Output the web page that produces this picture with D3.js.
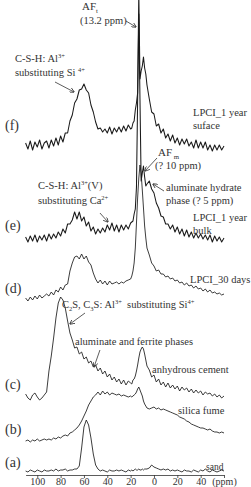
<!DOCTYPE html>
<html><head><meta charset="utf-8">
<script src="https://cdn.jsdelivr.net/npm/d3@7"></script>
<style>html,body{margin:0;padding:0;background:#fff;overflow:hidden}text{font-family:"Liberation Serif","Times New Roman",serif;fill:#333;white-space:pre}</style>
</head><body><svg id="c" width="251" height="487"></svg>
<script>
// chemical shift grid (ppm)
const ppm = [110,108,106,104,102,100,98,96,94,92,
 90,88,86,84,82,80,78,76,74,72,
 70,68,66,64,62,60,58,56,54,52,
 50,48,46,44,42,40,38,36,34,32,
 30,28,26,24,22,20,
 19,18,17,16,15,14,13,12,11,10,9,8,7,6,
 4,2,0,-2,-4,-6,-8,-10,-12,-14,
 -16,-18,-20,-22,-24,-26,-28,-30,-32,-34,
 -36,-38,-40,-42,-44,-46,-48,-50,-52,-54,
 -56,-58,-60];

// intensities (arbitrary units) above each spectrum's own baseline
const sand = [1,0,2,1,0,2,1,0,2,1,
 1,2,1,3,1,2,2,3,1,2,
 2,3,3,6,24,45,52,47,34,18,
 7,3,1,2,1,0,2,1,1,2,
 1,2,1,0,2,1,
 2,1,2,3,2,2,3,2,2,3,2,3,3,3,
 4,7,5,4,3,2,3,2,3,1,
 2,1,2,1,0,2,1,1,0,2,
 1,0,2,1,3,1,0,2,1,0,
 1,2,1];
const silicaFume = [0,1,-1,1,0,2,0,1,2,1,
 2,1,3,2,4,3,5,6,5,8,
 9,11,13,16,20,25,30,36,40,44,
 46,49,46,50,47,49,46,48,47,46,
 47,45,46,45,44,45,
 44,45,46,47,49,52,54,51,48,45,40,37,35,33,
 32,33,34,32,33,31,32,31,30,29,
 28,27,26,24,23,22,20,19,17,16,
 15,14,13,13,12,11,12,10,9,9,
 8,9,8];
const anhydrousCement = [2,-2,-4,1,3,-1,-4,-2,1,4,
 25,40,58,78,93,99,96,88,75,63,
 56,48,49,42,44,37,39,33,35,29,
 31,25,28,22,25,19,22,16,19,14,
 17,12,16,11,15,13,
 12,16,17,20,25,31,38,44,47,49,47,42,36,30,
 26,19,21,14,17,11,14,9,13,8,
 11,7,10,5,9,6,8,4,7,3,
 6,3,5,1,4,2,3,0,2,-1,
 1,-2,0];
const lpci30days = [0,-3,1,-2,2,-1,3,0,2,4,
 2,6,3,8,6,11,8,13,14,27,
 35,41,42,39,44,39,42,36,33,25,
 19,15,18,14,17,13,17,14,15,16,
 14,16,15,17,18,19,
 22,27,35,50,75,100,120,133,125,108,90,72,60,50,
 43,35,32,27,28,24,24,21,22,19,
 20,17,18,15,16,13,15,12,13,10,
 12,9,10,7,9,6,8,5,6,4,
 5,3,4];
const lpci1yBulk = [2,-3,3,-2,4,-3,3,-1,4,-2,
 5,0,5,1,7,3,10,6,15,15,
 19,27,20,27,18,22,13,17,8,12,
 5,10,6,11,7,14,9,16,8,14,
 7,14,9,14,10,16,
 17,18,25,30,52,140,225,140,58,66,73,62,53,55,
 58,50,46,36,31,23,22,15,15,10,
 14,7,12,5,10,3,9,2,7,1,
 6,1,5,0,4,-1,4,-3,3,-2,
 2,-3,1];
const lpci1ySurface = [2,-4,4,-5,3,-2,5,-4,2,4,
 -3,5,-1,7,0,9,3,12,12,24,
 30,42,46,55,56,61,55,52,40,33,
 23,16,17,13,16,12,18,11,17,13,
 18,13,19,14,20,16,
 17,22,24,35,42,52,152,66,74,79,88,77,71,60,
 46,33,31,19,21,12,16,7,11,4,
 10,2,7,0,6,1,6,-1,3,-3,
 5,-3,3,-3,3,-5,0,-6,0,-5,
 0,-5,-1];

const seriesNames = ["sand","silica fume","anhydrous cement","LPCI_30 days","LPCI_1 year bulk","LPCI_1 year suface"];
const seriesValues = [sand, silicaFume, anhydrousCement, lpci30days, lpci1yBulk, lpci1ySurface];
const stackOffsets = [3, 34, 79, 177, 236, 330];

const tickValues = [100,80,60,40,20,0,-20,-40,-60];
const tickLabels = ["100","80","60","40","20","0","20","40","(ppm)"];

const svg = d3.select("#c");
const x = d3.scaleLinear().domain([110,-60]).range([25.6,224]);
const y = d3.scaleLinear().domain([0,475]).range([475,0]);

// spectra
const line = d3.line().x(d => x(d[0])).y(d => y(d[1]));
seriesValues.forEach((vals, i) => {
  const pts = ppm.map((p, j) => [p, stackOffsets[i] + vals[j]]);
  svg.append("path").datum(pts)
    .attr("fill","none").attr("stroke","#1a1a1a").attr("stroke-width", i >= 4 ? 1.05 : 0.85)
    .attr("stroke-linejoin","round")
    .attr("d", line);
});

// axis
const axis = d3.axisBottom(x).tickValues(tickValues).tickSize(3).tickSizeOuter(0)
  .tickFormat((d,i) => tickLabels[i]);
const ag = svg.append("g").attr("transform","translate(0,475)").call(axis);
ag.select(".domain").attr("stroke","#333").attr("stroke-width",0.8);
ag.selectAll(".tick line").attr("stroke","#333").attr("stroke-width",0.8);
ag.selectAll(".tick text").attr("y",10).attr("dy",0)
  .style("font-family","'Liberation Serif',serif").style("font-size","10px").attr("fill","#333");

// rich text helper
function rich(tx, ty, parts, size) {
  const t = svg.append("text").attr("x",tx).attr("y",ty).style("font-size",size+"px");
  let shift = 0;
  parts.forEach(p => {
    const s = Array.isArray(p) ? p[0] : p;
    const kind = Array.isArray(p) ? p[1] : "";
    const target = kind === "sup" ? -size*0.38 : kind === "sub" ? size*0.28 : 0;
    const ts = t.append("tspan").attr("dy", target - shift).text(s);
    if (kind) ts.style("font-size",(size*0.62)+"px");
    shift = target;
  });
}

const fs = 10.5;
// panel letters
[["(a)",467],["(b)",434],["(c)",389],["(d)",293],["(e)",230],["(f)",130]]
  .forEach(([s,ty]) => rich(5, ty, [s], 14));

// sample labels
rich(206, 470, ["sand"], 9.5);
rich(178, 414, ["silica fume"], fs);
rich(152, 373, ["anhydrous cement"], fs);
rich(190, 283, ["LPCI_30 days"], fs);
rich(193, 221, ["LPCI_1 year"], fs);
rich(193, 234, ["bulk"], fs);
rich(193, 116, ["LPCI_1 year"], fs);
rich(193, 129, ["suface"], fs);

// peak annotations
rich(82, 10, ["AF", ["t","sub"]], 11);
rich(80, 24, ["(13.2 ppm)"], fs);
rich(15, 62, ["C-S-H: Al", ["3+","sup"]], fs);
rich(15, 76, ["substituting Si ", ["4+","sup"]], fs);
rich(158, 156, ["AF", [" m","sub"]], 11);
rich(155, 169, ["(? 10 ppm)"], fs);
rich(38, 189, ["C-S-H: Al", ["3+","sup"], "(V)"], fs);
rich(38, 204, ["substituting Ca", ["2+","sup"]], fs);
rich(166, 191, ["aluminate hydrate"], fs);
rich(166, 204, ["phase (? 5 ppm)"], fs);
rich(62, 308, ["C", ["2","sub"], "S, C", ["3","sub"], "S: Al", ["3+","sup"], "  substituting Si", ["4+","sup"]], fs);
rich(75, 345, ["aluminate and ferrite phases"], fs);

// arrows (data coordinates: ppm, intensity units)
const arrows = [
  [[24.0,454],[15.4,448]],
  [[84.8,393],[68.5,383]],
  [[-2.6,317],[7.7,304]],
  [[-8.6,284],[0.9,291]],
  [[46.3,262],[39.4,253]],
  [[59.1,162],[72.0,151]],
  [[46.3,125],[51.4,108]]
];
svg.append("defs").append("marker").attr("id","ah")
  .attr("viewBox","0 0 10 10").attr("refX",9).attr("refY",5)
  .attr("markerWidth",5).attr("markerHeight",5).attr("markerUnits","userSpaceOnUse")
  .attr("orient","auto")
  .append("path").attr("d","M0,0 L10,5 L0,10").attr("fill","none").attr("stroke","#333").attr("stroke-width",1.6);
arrows.forEach(([a,b]) => {
  svg.append("line").attr("x1",x(a[0])).attr("y1",y(a[1])).attr("x2",x(b[0])).attr("y2",y(b[1]))
    .attr("stroke","#333").attr("stroke-width",0.8).attr("marker-end","url(#ah)");
});
</script></body></html>
